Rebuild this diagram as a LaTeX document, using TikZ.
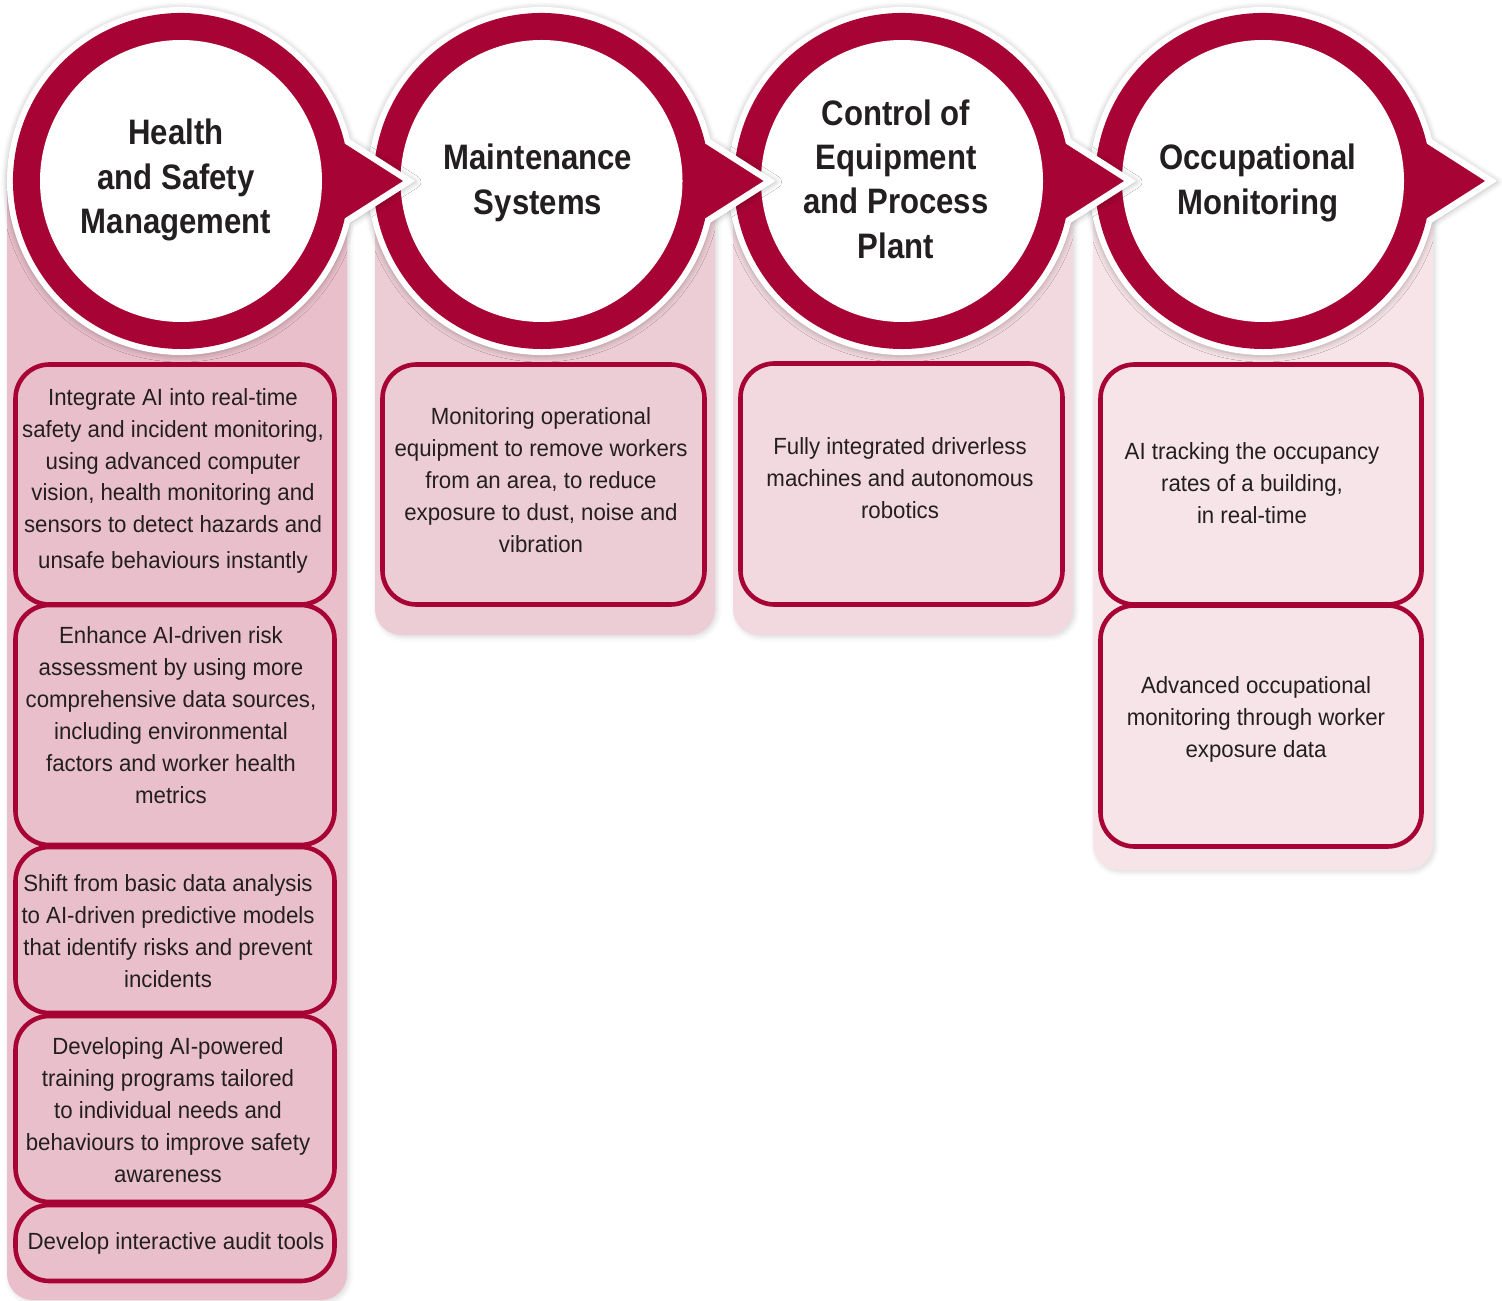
\documentclass[tikz,border=0pt]{standalone}
\usepackage{fontspec}
\newfontfamily\bodyfont{Liberation Sans}[FakeStretch=0.95]
\newfontfamily\headfont{Liberation Sans}[FakeStretch=0.88]
\usetikzlibrary{shadows.blur}
\definecolor{crimson}{RGB}{167,3,52}
\definecolor{ink}{RGB}{35,31,32}
\definecolor{paneA}{RGB}{233,191,203}
\definecolor{paneB}{RGB}{237,205,213}
\definecolor{paneC}{RGB}{242,217,223}
\definecolor{paneD}{RGB}{246,228,232}

% one stage badge: white rim with drop shadow, crimson ring with pointer, white face
\newcommand\drawbadge[1]{%
  \fill[white, blur shadow={shadow xshift=0bp, shadow yshift=-1bp,
        shadow blur radius=6bp, shadow opacity=28}]
    (#1+168.95,222.6) arc[start angle=13.83, end angle=346.17, radius=174]
    -- (#1+234,181) -- cycle;
  \fill[crimson]
    (#1+163.8,218.2) arc[start angle=12.8, end angle=347.2, radius=168]
    -- (#1+222,181) -- cycle;
  \fill[white] (#1,181) circle (141);
}

\begin{document}
\begin{tikzpicture}[x=1bp, y=-1bp,
  pane/.style={rounded corners=26bp,
    blur shadow={shadow xshift=2bp, shadow yshift=-2bp,
      shadow blur radius=5bp, shadow opacity=15}},
  itembox/.style={draw=crimson, line width=4.6bp, rounded corners=34bp,
    inner sep=0pt, outer sep=0pt},
  itemtext/.style={font=\bodyfont\fontsize{23.5}{32}\selectfont, text=ink,
    align=center, inner sep=0pt},
  headtext/.style={font=\headfont\bfseries\fontsize{35.5}{44.5}\selectfont,
    text=ink, align=center, inner sep=0pt},
]
\useasboundingbox (0,0) rectangle (1502,1301);

% column panels
\fill[paneA, pane] (7,150) rectangle (347,1300);
\fill[paneB, pane] (375,150) rectangle (715,635);
\fill[paneC, pane] (733,150) rectangle (1073,635);
\fill[paneD, pane] (1093,150) rectangle (1433,870);

% column 1 items
\node[itembox, minimum width=319bp, minimum height=240bp] (h1) at (175,484.5) {};
\node[itembox, minimum width=319bp, minimum height=240bp] (h2) at (175,725) {};
\node[itembox, minimum width=319bp, minimum height=166bp] (h3) at (175,930) {};
\node[itembox, minimum width=319bp, minimum height=186bp] (h4) at (175,1109) {};
\node[itembox, minimum width=319bp, minimum height=76bp] (h5) at (175,1243) {};

\node[itemtext] (h1t) at (173,481) {Integrate AI into real-time\\safety and incident monitoring,\\using advanced computer\\vision, health monitoring and\\sensors to detect hazards and\\[4bp]unsafe behaviours instantly};
\node[itemtext] (h2t) at (171,715) {Enhance AI-driven risk\\assessment by using more\\comprehensive data sources,\\including environmental\\factors and worker health\\metrics};
\node[itemtext] (h3t) at (168,931) {Shift from basic data analysis\\to AI-driven predictive models\\that identify risks and prevent\\incidents};
\node[itemtext] (h4t) at (168,1110) {Developing AI-powered\\training programs tailored\\to individual needs and\\behaviours to improve safety\\awareness};
\node[itemtext] (h5t) at (176,1243) {Develop interactive audit tools};

% column 2 item
\node[itembox, minimum width=322bp, minimum height=240bp] (m1) at (543.5,484.5) {};
\node[itemtext] (m1t) at (541,480) {Monitoring operational\\equipment to remove workers\\from an area, to reduce\\exposure to dust, noise and\\vibration};

% column 3 item
\node[itembox, minimum width=322bp, minimum height=241bp] (c1) at (901.5,484) {};
\node[itemtext] (c1t) at (900,478) {Fully integrated driverless\\machines and autonomous\\robotics};

% column 4 items
\node[itembox, minimum width=321bp, minimum height=240bp] (o1) at (1261,484.5) {};
\node[itembox, minimum width=321bp, minimum height=241bp] (o2) at (1261,726) {};
\node[itemtext] (o1t) at (1252,483) {AI tracking the occupancy\\rates of a building,\\in real-time};
\node[itemtext] (o2t) at (1256,719.5) {Advanced occupational\\monitoring through worker\\exposure data};

% stage badges, right to left so each pointer lies over the next badge
\drawbadge{1263}
\node[headtext] (s4) at (1258,183) {Occupational\\Monitoring};
\drawbadge{902}
\node[headtext] (s3) at (896,179) {Control of\\Equipment\\and Process\\Plant};
\drawbadge{541.5}
\node[headtext] (s2) at (538,183) {Maintenance\\Systems};
\drawbadge{181}
\node[headtext] (s1) at (176,180) {Health\\and Safety\\Management};
\end{tikzpicture}
\end{document}
